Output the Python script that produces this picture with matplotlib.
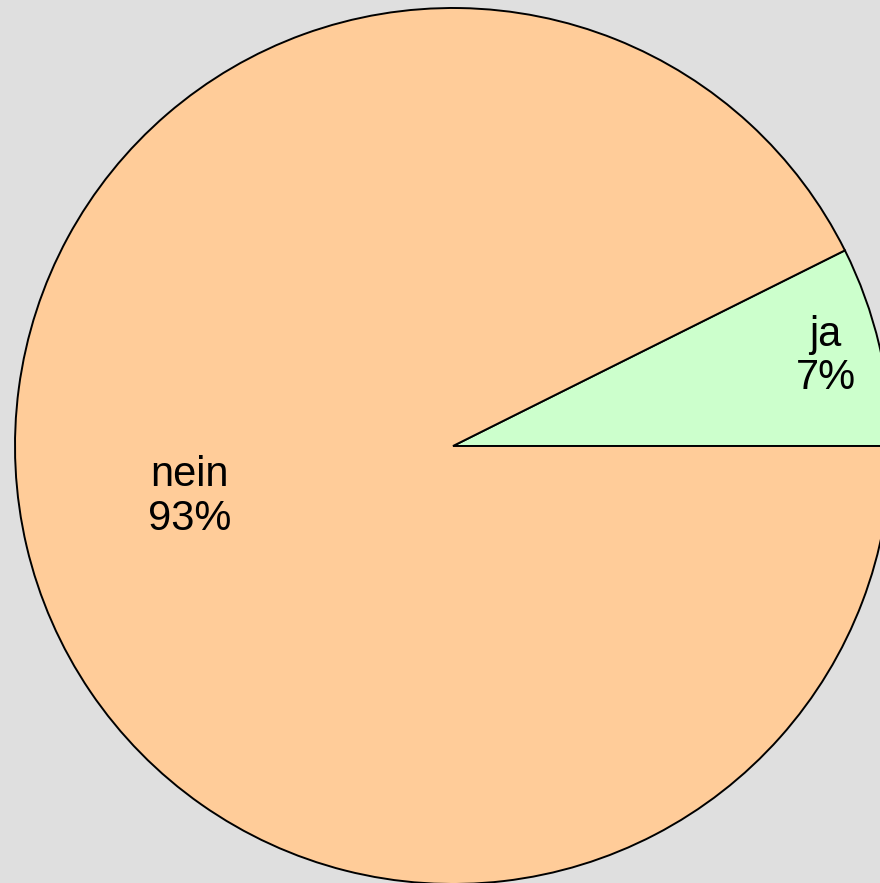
import numpy as np
import matplotlib.pyplot as plt

plt.rcParams['font.family'] = ['Liberation Sans', 'DejaVu Sans']

labels = ["ja", "nein"]
counts = [14, 176]
colors = ["#CCFFCC", "#FFCC99"]
# label placement: fraction of radius and angle nudge (deg) per wedge
label_dist = [0.875, 0.612]
label_turn = [0.3, -2.3]

fig = plt.figure(figsize=(8.8, 8.83), dpi=100, facecolor="#DFDFDF")
ax = fig.add_axes([15 / 880, -1 / 883, 876 / 880, 876 / 883])
ax.set_facecolor("#DFDFDF")

wedges, _ = ax.pie(counts, colors=colors, startangle=0, counterclock=True,
                   radius=1.0, wedgeprops=dict(edgecolor="black", linewidth=1.4))

total = sum(counts)
for w, lab, c, d, t in zip(wedges, labels, counts, label_dist, label_turn):
    mid = np.deg2rad((w.theta1 + w.theta2) / 2 + t)
    pct = round(100 * c / total)
    ax.text(d * np.cos(mid), d * np.sin(mid), f"{lab}\n{pct}%",
            ha="center", va="center", fontsize=30, linespacing=1.1)

ax.set_xlim(-1, 1)
ax.set_ylim(-1, 1)
ax.set_aspect("equal")
ax.axis("off")

fig.savefig("out.png", dpi=100, facecolor=fig.get_facecolor())
